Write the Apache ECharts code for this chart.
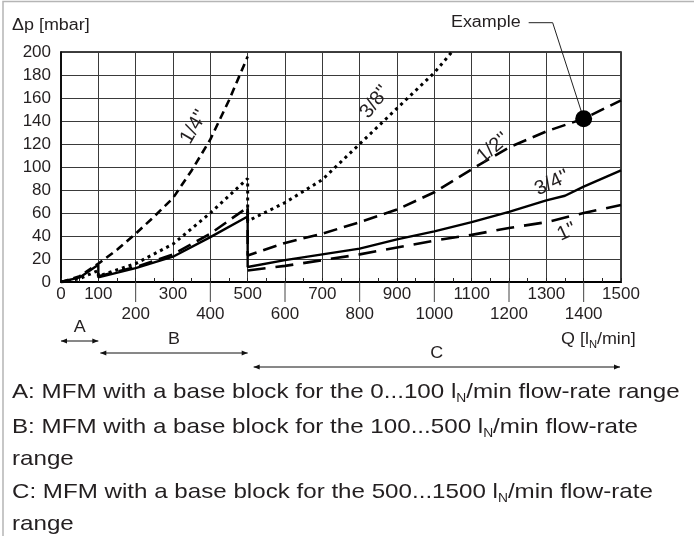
<!DOCTYPE html>
<html>
<head>
<meta charset="utf-8">
<script src="https://cdn.jsdelivr.net/npm/echarts/dist/echarts.min.js"></script>
<style>
html, body { margin: 0; padding: 0; background: #fff; }
#chart { width: 694px; height: 536px; }
</style>
</head>
<body>
<div id="chart"></div>
<script>
// Q [lN/min] / dp [mbar], one pair of arrays per pipe size
const q14 = [0, 50, 100, 150, 200, 250, 300, 350, 400, 450, 500];
const p14 = [0, 5, 16, 28, 42, 57, 73, 97, 124, 158, 196];

const q38 = [0, 50, 100, 100, 200, 300, 400, 500, 500, 600, 700, 800, 900, 1000, 1047];
const p38 = [0, 3, 10, 5, 16, 33, 60, 90, 53, 69, 89, 120, 151, 182, 200];

const q12 = [100, 200, 300, 400, 500, 500, 600, 700, 800, 900, 1000, 1100, 1200, 1300, 1400, 1500];
const p12 = [5, 13, 24, 42, 65, 23, 34, 42, 52, 63, 78, 98, 117, 131, 142, 158];

const q34 = [0, 50, 100, 100, 200, 300, 400, 500, 500, 500, 600, 700, 800, 900, 1000, 1100, 1200, 1300, 1350, 1400, 1500];
const p34 = [0, 4, 15, 4, 12, 22, 39, 57, 65, 13, 19, 24, 29, 37, 44, 52, 61, 71, 75, 83, 97];

const q1 = [500, 600, 700, 800, 900, 1000, 1100, 1200, 1300, 1400, 1500];
const p1 = [10, 14, 19, 24, 30, 36, 41, 47, 52, 60, 67];

const exampleQ = [1400];
const exampleP = [142];

// flow-rate ranges of the base blocks
const rangeNames = ['A', 'B', 'C'];
const rangeFrom = [0, 100, 500];
const rangeTo = [100, 500, 1500];

const longTicks = [200, 400, 600, 800, 1000, 1200, 1400];

const FONT = '"Liberation Sans", Arial, sans-serif';
const INK = '#231f20';

// arrow placement below the axis (pixels)
const arrowDy = [59, 71, 85];
const arrowInset = [[0, 0], [2, 0], [6, 1]];

function pairs(qs, ps) {
  return qs.map((q, i) => [q, ps[i]]);
}

function curve(name, qs, ps, type, width) {
  return {
    name: name,
    type: 'line',
    data: pairs(qs, ps),
    symbol: 'none',
    clip: true,
    lineStyle: { color: '#000', width: width, type: type, cap: 'butt' },
    z: 3
  };
}

function arrowHead(x, y, dir) {
  return {
    type: 'polygon',
    shape: { points: [[x, y], [x + dir * 6, y - 2.5], [x + dir * 6, y + 2.5]] },
    style: { fill: '#111' }
  };
}

function label(text, x, y, deg) {
  return {
    type: 'text',
    x: x, y: y,
    rotation: deg * Math.PI / 180,
    style: {
      text: text, fill: INK, font: '20px ' + FONT,
      align: 'center', verticalAlign: 'middle'
    },
    z: 10
  };
}

function noteLine(prefix, suffix, y) {
  return {
    type: 'text',
    x: 12, y: y,
    scaleX: 1.15,
    style: {
      text: '{t|' + prefix + '}{s|N}{t|' + suffix + '}',
      align: 'left', verticalAlign: 'middle',
      rich: {
        t: { fontSize: 21, fontFamily: FONT, fill: INK, lineHeight: 26 },
        s: { fontSize: 12, fontFamily: FONT, fill: INK, lineHeight: 26, verticalAlign: 'bottom' }
      }
    }
  };
}

function plainLine(text, y) {
  return {
    type: 'text',
    x: 12, y: y,
    scaleX: 1.15,
    style: { text: text, fill: INK, font: '21px ' + FONT, align: 'left', verticalAlign: 'middle' }
  };
}

const isOddHundred = v => v === 0 || (v / 100) % 2 === 1;

const chart = echarts.init(document.getElementById('chart'));

const option = {
  animation: false,
  backgroundColor: '#fff',
  textStyle: { fontFamily: FONT },
  grid: {
    left: 61, top: 52, width: 560, height: 230,
    show: true, borderColor: '#000', borderWidth: 1.5,
    containLabel: false, outerBoundsMode: 'none'
  },
  xAxis: [
    {
      // first label row: 0, 100, 300, ... 1500
      type: 'value',
      min: 0, max: 1500, interval: 100,
      axisLine: { show: true, lineStyle: { color: '#000', width: 2.2 } },
      axisTick: { show: true, inside: true, length: 4, lineStyle: { color: '#222' } },
      minorTick: { show: true, splitNumber: 2, length: 4, lineStyle: { color: '#222' } },
      splitLine: { show: true, lineStyle: { color: '#3a3a3a', width: 1 } },
      axisLabel: {
        color: INK, fontSize: 17, margin: 4,
        showMinLabel: true, showMaxLabel: true, hideOverlap: false,
        formatter: v => isOddHundred(v) ? String(v) : ''
      }
    },
    {
      // second label row: 200, 400, ... 1400
      type: 'value',
      position: 'bottom',
      min: 0, max: 1500, interval: 100,
      axisLine: { show: false },
      axisTick: { show: false },
      splitLine: { show: false },
      axisLabel: {
        color: INK, fontSize: 17, margin: 24,
        showMinLabel: true, showMaxLabel: true, hideOverlap: false,
        formatter: v => isOddHundred(v) ? '' : String(v)
      }
    }
  ],
  yAxis: {
    type: 'value',
    min: 0, max: 200, interval: 20,
    axisLine: { show: true, lineStyle: { color: '#000', width: 1.5 } },
    axisTick: { show: false },
    splitLine: { show: true, lineStyle: { color: '#3a3a3a', width: 1 } },
    axisLabel: { color: INK, fontSize: 17, margin: 10, showMinLabel: true, showMaxLabel: true }
  },
  graphic: [
    {
      type: 'rect',
      shape: { x: 3, y: 1.5, width: 720, height: 620 },
      style: { fill: null, stroke: '#b5b5b5', lineWidth: 1.5 },
      silent: true
    },
    {
      type: 'text', x: 12, y: 26, scaleX: 1.12,
      style: { text: 'Δp [mbar]', fill: INK, font: '16px ' + FONT, verticalAlign: 'middle' }
    },
    {
      type: 'text', x: 561, y: 340, scaleX: 1.12,
      style: {
        text: '{t|Q [l}{s|N}{t|/min]}',
        verticalAlign: 'middle',
        rich: {
          t: { fontSize: 16, fontFamily: FONT, fill: INK, lineHeight: 20 },
          s: { fontSize: 10, fontFamily: FONT, fill: INK, lineHeight: 20, verticalAlign: 'bottom' }
        }
      }
    },
    label("1/4''", 194, 127, 60),
    label("3/8''", 375, 102, 52),
    label("1/2''", 493, 148, 40),
    label("3/4''", 552, 183, 25),
    label("1''", 567, 232, 25),
    noteLine('A: MFM with a base block for the 0...100 l', '/min flow-rate range', 392),
    noteLine('B: MFM with a base block for the 100...500 l', '/min flow-rate', 427),
    plainLine('range', 459),
    noteLine('C: MFM with a base block for the 500...1500 l', '/min flow-rate', 492),
    plainLine('range', 524)
  ],
  series: [
    curve("1/4''", q14, p14, [8, 5], 2.6),
    curve("3/8''", q38, p38, [3, 4], 3),
    curve("1/2''", q12, p12, [14, 7], 2.6),
    curve("3/4''", q34, p34, 'solid', 2.4),
    curve("1''", q1, p1, [18, 10], 2.6),
    {
      name: 'example',
      type: 'scatter',
      data: pairs(exampleQ, exampleP),
      symbolSize: 17,
      itemStyle: { color: '#000', opacity: 1 },
      z: 6
    },
    {
      name: 'example-note',
      type: 'custom',
      clip: false,
      silent: true,
      data: pairs(exampleQ, exampleP),
      renderItem: function (params, api) {
        const p = api.coord([api.value(0), api.value(1)]);
        return {
          type: 'group',
          children: [
            {
              type: 'polyline',
              shape: { points: [[p[0] - 55, p[1] - 96], [p[0] - 31, p[1] - 96], [p[0], p[1]]] },
              style: { stroke: '#222', lineWidth: 1, fill: null }
            },
            {
              type: 'text',
              x: p[0] - 63, y: p[1] - 96, scaleX: 1.12,
              style: { text: 'Example', fill: INK, font: '16px ' + FONT, align: 'right', verticalAlign: 'middle' }
            }
          ]
        };
      },
      z: 5
    },
    {
      name: 'long-ticks',
      type: 'custom',
      clip: false,
      silent: true,
      data: longTicks.map(v => [v, 0]),
      renderItem: function (params, api) {
        const p = api.coord([api.value(0), 0]);
        return {
          type: 'line',
          shape: { x1: p[0], y1: p[1], x2: p[0], y2: p[1] + 20 },
          style: { stroke: '#444', lineWidth: 1 }
        };
      }
    },
    {
      name: 'ranges',
      type: 'custom',
      clip: false,
      silent: true,
      data: rangeFrom.map((f, i) => [f, rangeTo[i], i]),
      renderItem: function (params, api) {
        const i = api.value(2);
        const a = api.coord([api.value(0), 0]);
        const b = api.coord([api.value(1), 0]);
        const y = a[1] + arrowDy[i];
        const x1 = a[0] + arrowInset[i][0];
        const x2 = b[0] - arrowInset[i][1];
        return {
          type: 'group',
          children: [
            { type: 'line', shape: { x1: x1, y1: y, x2: x2, y2: y }, style: { stroke: '#111', lineWidth: 1 } },
            arrowHead(x1, y, 1),
            arrowHead(x2, y, -1),
            {
              type: 'text',
              x: (x1 + x2) / 2, y: y - 13, scaleX: 1.12,
              style: { text: rangeNames[i], fill: INK, font: '16px ' + FONT, align: 'center', verticalAlign: 'middle' }
            }
          ]
        };
      }
    }
  ]
};

chart.setOption(option);
</script>
</body>
</html>
